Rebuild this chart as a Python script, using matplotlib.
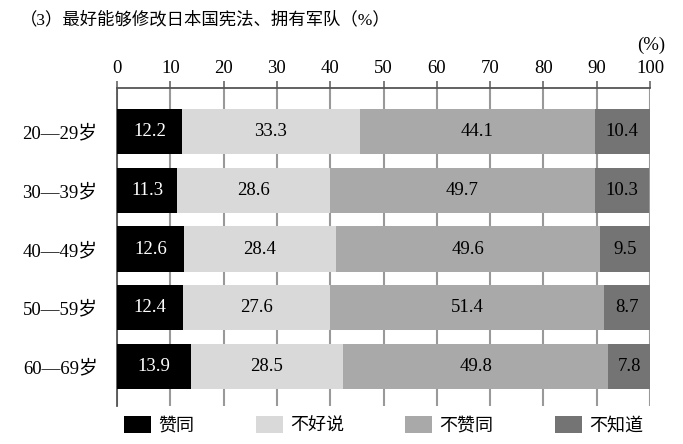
import matplotlib
matplotlib.use("Agg")
import matplotlib.pyplot as plt
import numpy as np

categories = ["20—29岁", "30—39岁", "40—49岁", "50—59岁", "60—69岁"]
series_names = ["赞同", "不好说", "不赞同", "不知道"]
agree = [12.2, 11.3, 12.6, 12.4, 13.9]
unsure = [33.3, 28.6, 28.4, 27.6, 28.5]
disagree = [44.1, 49.7, 49.6, 51.4, 49.8]
unknown = [10.4, 10.3, 9.5, 8.7, 7.8]
xticks = [0, 10, 20, 30, 40, 50, 60, 70, 80, 90, 100]
title = "（3）最好能够修改日本国宪法、拥有军队（%）"

colors = ["#000000", "#d9d9d9", "#a9a9a9", "#747474"]
text_colors = ["white", "black", "black", "black"]

FAM = ["Liberation Serif", "Noto Sans CJK SC", "DejaVu Sans"]
plt.rcParams['font.family'] = FAM

fig = plt.figure(figsize=(6.83, 4.44), dpi=100)
ax = fig.add_axes([117/683, 38/444, 533/683, 318/444])

y = np.arange(len(categories))
left = np.zeros(len(categories))
series = [agree, unsure, disagree, unknown]
handles = []
for vals, c, tc, name in zip(series, colors, text_colors, series_names):
    bars = ax.barh(y, vals, left=left, height=0.77, color=c, zorder=3, label=name)
    handles.append(bars)
    for yi, l, v in zip(y, left, vals):
        ax.text(l + v / 2, yi, f"{v:.1f}", ha="center", va="center",
                color=tc, fontsize=13.5, zorder=4)
    left = left + np.array(vals)

ax.set_xlim(0, 100)
ax.set_ylim(4.67, -0.74)
ax.set_xticks(xticks)
ax.xaxis.tick_top()
ax.tick_params(axis="x", length=5, width=1.2, color="#666666", labelsize=13.5, pad=3)
ax.set_yticks(y)
ax.set_yticklabels(categories, fontsize=13.5)
ax.tick_params(axis="y", length=0, pad=14)
for t in ax.get_yticklabels():
    t.set_family(FAM)

ax.grid(axis="x", color="#999999", linewidth=1.5, zorder=0)
ax.set_axisbelow(True)
for s in ["right", "bottom"]:
    ax.spines[s].set_visible(False)
ax.spines["top"].set_color("#555555")
ax.spines["top"].set_linewidth(1.3)
ax.spines["left"].set_color("#555555")
ax.spines["left"].set_linewidth(1.3)

fig.text(20/683, 1 - 20/444, title, fontsize=12.5, va="center", ha="left", family=FAM)
fig.text(651/683, 1 - 45/444, "(%)", fontsize=13.5, va="center", ha="center", family=FAM)

fig.legend(handles=handles, labels=series_names, ncol=4, loc="center left",
           bbox_to_anchor=(124/683, 1 - 425/444), frameon=False,
           handlelength=1.5, handleheight=1.1, handletextpad=0.4,
           columnspacing=3.4, borderaxespad=0, borderpad=0,
           prop={"family": FAM, "size": 13})

fig.savefig("out.png", dpi=100)
